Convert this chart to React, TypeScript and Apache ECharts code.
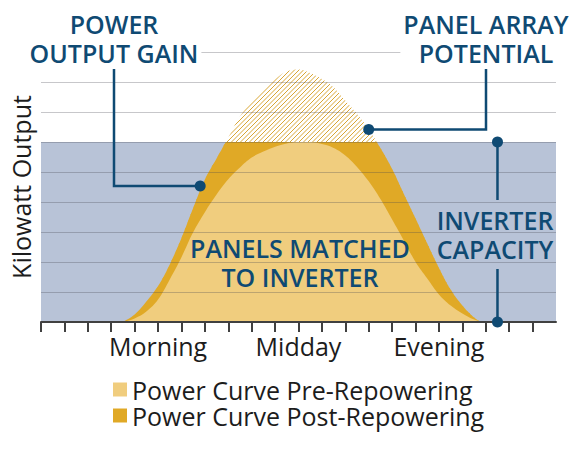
import { useEffect, useRef } from "react";
import * as echarts from "echarts";

// x axis: the day split into 22 equal steps, ticks on every step but the last
const tickValues = [0, 1, 2, 3, 4, 5, 6, 7, 8, 9, 10, 11, 12, 13, 14, 15, 16, 17, 18, 19, 20, 21];
const periodLabels = ["Morning", "Midday", "Evening"];
const periodAt = [5, 11, 17];

// kilowatt output, in grid steps
const inverterCapacity = 6;
const outputMax = 9;

const seriesNames = ["Power Curve Pre-Repowering", "Power Curve Post-Repowering"];

// pre-repowering curve (already capped by the inverter)
const preX = [3.5, 4, 4.5, 5, 5.5, 6, 6.5, 7, 7.5, 8, 8.5, 9, 9.5, 10, 10.5, 11, 11.5, 12, 12.5, 13, 13.5, 14, 14.5, 15, 15.5, 16, 16.5, 17, 17.5, 18, 18.5, 18.9];
const preY = [0, 0.12, 0.35, 0.75, 1.42, 2.16, 2.99, 3.66, 4.25, 4.76, 5.15, 5.48, 5.68, 5.84, 5.95, 6.0, 6.0, 5.93, 5.8, 5.55, 5.17, 4.69, 4.1, 3.42, 2.72, 2.0, 1.45, 0.92, 0.55, 0.28, 0.08, 0];

// post-repowering panel array potential (clipped at the inverter capacity when drawn)
const postX = [3.5, 4, 4.5, 5, 5.5, 6, 6.5, 7, 7.5, 8, 8.5, 9, 9.5, 10, 10.5, 11, 11.5, 12, 12.5, 13, 13.5, 14, 14.5, 15, 15.5, 16, 16.5, 17, 17.5, 18, 18.5, 18.8];
const postY = [0, 0.25, 0.68, 1.2, 1.92, 2.8, 3.8, 4.75, 5.45, 6.15, 6.85, 7.36, 7.78, 8.1, 8.35, 8.42, 8.3, 8.1, 7.82, 7.38, 6.93, 6.42, 5.8, 5.1, 4.27, 3.45, 2.62, 1.8, 1.08, 0.55, 0.15, 0];

// callout anchors in data units
const gainAnchor = [6.8, 4.53];
const potentialAnchor = [14.0, 6.42];
const inverterAt = 19.5;

const NAVY = "#0f4a73";
const LIGHT = "#f0cd7e";
const DARK = "#e0a926";
const BAND = "#b8c3d7";
const INK = "#1c1c1c";
const FONT = "'Open Sans', 'Noto Sans', sans-serif";

function hatch() {
  const size = 9;
  const c = document.createElement("canvas");
  c.width = size;
  c.height = size;
  const ctx = c.getContext("2d")!;
  ctx.strokeStyle = "#d9a634";
  ctx.lineWidth = 1;
  for (let o = -size; o <= size; o += size / 2) {
    ctx.beginPath();
    ctx.moveTo(o, size);
    ctx.lineTo(o + size, 0);
    ctx.stroke();
  }
  return { image: c, repeat: "repeat", imageWidth: size, imageHeight: size };
}

function calloutText(text: string, x: number, y: number, bg: boolean) {
  return {
    type: "text",
    x,
    y,
    z: 100,
    style: {
      text,
      fill: NAVY,
      fontSize: 25,
      fontWeight: 600,
      fontFamily: FONT,
      align: "center",
      verticalAlign: "top",
      lineHeight: 29,
      backgroundColor: bg ? "#fff" : undefined,
      padding: bg ? [0, 3] : 0,
    },
  };
}

function leader(points: number[][]) {
  return {
    type: "polyline",
    z: 100,
    shape: { points },
    style: { stroke: NAVY, lineWidth: 2.5, fill: null },
  };
}

function dot(p: number[]) {
  return { type: "circle", z: 101, shape: { cx: p[0], cy: p[1], r: 5.5 }, style: { fill: NAVY } };
}

export default function App() {
  const ref = useRef<HTMLDivElement>(null);

  useEffect(() => {
    if (!ref.current) return;
    const chart = echarts.init(ref.current, undefined, { renderer: "svg" });
    const pre = preX.map((x, i) => [x, preY[i]]);
    const post = postX.map((x, i) => [x, postY[i]]);

    chart.setOption({
      animation: false,
      backgroundColor: "#fff",
      grid: { left: 35, right: 20, top: 52, bottom: 129 },
      xAxis: {
        type: "value",
        min: 0,
        max: 22,
        interval: 1,
        z: 10,
        axisLine: { lineStyle: { color: "#404040", width: 2 } },
        axisTick: { customValues: tickValues, length: 10, lineStyle: { color: "#404040", width: 2 } },
        axisLabel: {
          customValues: periodAt,
          formatter: (v: number) => {
            const i = periodAt.indexOf(v);
            return i >= 0 ? periodLabels[i] : "";
          },
          fontSize: 25,
          color: INK,
          fontFamily: FONT,
          margin: 11,
        },
        splitLine: { show: false },
      },
      yAxis: {
        type: "value",
        min: 0,
        max: outputMax,
        interval: 1,
        z: 10,
        name: "Kilowatt Output",
        nameLocation: "middle",
        nameRotate: 90,
        nameGap: 8,
        nameTextStyle: { fontSize: 25, color: INK, fontFamily: FONT },
        axisLine: { show: false },
        axisTick: { show: false },
        axisLabel: { show: false },
        splitLine: { lineStyle: { color: "rgba(70,70,80,0.3)", width: 1 } },
      },
      legend: {
        orient: "vertical",
        left: 113,
        top: 377,
        itemWidth: 14,
        itemHeight: 14,
        itemGap: 1,
        padding: 0,
        icon: "rect",
        selectedMode: false,
        textStyle: { fontSize: 25, color: INK, fontFamily: FONT },
        data: [
          { name: seriesNames[0], itemStyle: { color: LIGHT } },
          { name: seriesNames[1], itemStyle: { color: DARK } },
        ],
      },
      visualMap: {
        show: false,
        type: "piecewise",
        seriesIndex: 1,
        dimension: 1,
        pieces: [
          { gte: -1, lte: inverterCapacity, color: DARK },
          { gt: inverterCapacity, lte: outputMax + 1, color: "rgba(0,0,0,0)" },
        ],
      },
      series: [
        {
          name: "Panel Array Potential",
          type: "line",
          data: post,
          smooth: 0.4,
          symbol: "none",
          silent: true,
          z: 2,
          lineStyle: { width: 0 },
          areaStyle: { color: hatch(), opacity: 1 },
          markArea: {
            silent: true,
            itemStyle: { color: BAND },
            data: [[{ yAxis: 0 }, { yAxis: inverterCapacity }]],
          },
        },
        {
          name: seriesNames[1],
          type: "line",
          data: post,
          smooth: 0.4,
          symbol: "none",
          silent: true,
          z: 3,
          lineStyle: { width: 0 },
          areaStyle: { opacity: 1 },
        },
        {
          name: seriesNames[0],
          type: "line",
          data: pre,
          smooth: 0.4,
          symbol: "none",
          silent: true,
          z: 4,
          color: LIGHT,
          lineStyle: { width: 0 },
          areaStyle: { color: LIGHT, opacity: 1 },
        },
      ],
    });

    const px = (p: number[]) => chart.convertToPixel({ gridIndex: 0 }, p) as number[];
    const g = px(gainAnchor);
    const pa = px(potentialAnchor);
    const invTop = px([inverterAt, inverterCapacity]);
    const invBot = px([inverterAt, 0]);

    chart.setOption({
      graphic: [
        calloutText("POWER\nOUTPUT GAIN", 114, 9, true),
        leader([[114, 69], [114, g[1]], [g[0], g[1]]]),
        dot(g),
        calloutText("PANEL ARRAY\nPOTENTIAL", 486, 9, true),
        leader([[486, 69], [486, pa[1]], [pa[0], pa[1]]]),
        dot(pa),
        calloutText("INVERTER\nCAPACITY", 495, 205, false),
        leader([[invTop[0], invTop[1]], [invTop[0], 200]]),
        leader([[invBot[0], 269], [invBot[0], invBot[1]]]),
        dot(invTop),
        dot(invBot),
        calloutText("PANELS MATCHED\nTO INVERTER", 300, 233, false),
      ],
    });

    return () => chart.dispose();
  }, []);

  return (
    <div
      ref={ref}
      style={{ position: "fixed", left: 0, top: 0, width: 576, height: 451, background: "#fff" }}
    />
  );
}
